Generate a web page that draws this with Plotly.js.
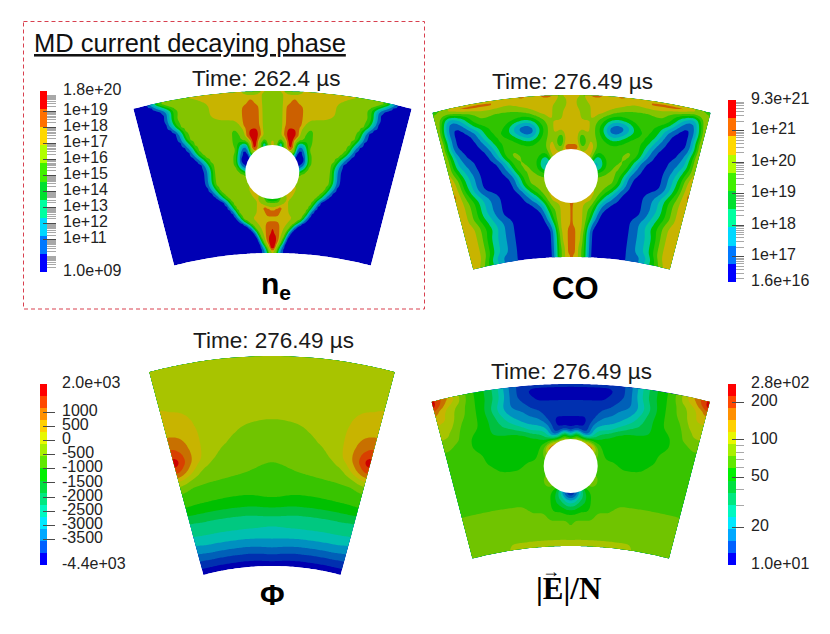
<!DOCTYPE html>
<html><head><meta charset="utf-8">
<script src="https://cdn.plot.ly/plotly-3.0.1.min.js"></script>
<style>html,body{margin:0;padding:0;background:#fff}#c{width:830px;height:634px}</style>
</head><body><div id="c"></div>
<script>
// ---- field data: contour band index (hex digit) per radial row, centre line to side edge ----
const tenFractions=[0,.02,.05,.08,.12,.16,.20,.25,.30,.36,.43,.50,.58,.66,.74,.82,.90,.96,1];
const tenRowDepths=[0,4,10,16,22,28,34,40,46,52,58,64,72,80,88,96,104,110,116,122,128,134,140,146,152,157,162];
const neRows=[
"6677546777777665111","5557777777776664001","5557787777766630000","5557888777766640000",
"5557888777766640000","5557888777666630000","5557888744666500000","5557998446666500000",
"6677998446666300000","7721991446666100000","7633890256665000000","6665550156662000000",
"0000000046640000000","3333333466640000000","6666666666650000000","7777777666630000000",
"3334776666400000000","3335766665000000000","7788766663000000000","8887766650000000000",
"7777777620000000000","8887764000000000000","9887630000000000000","9987400000000000000",
"9985100000000000000","9942100000000000000","6532110000000000000"];
const coRows=[
"7776788778777777653","7766777777778888776","7766677777666654167","7776677765555652057",
"7776676544555540047","7777765421255410047","7777765300245400057","7774765422455200047",
"7773675544554100157","8885685555563000257","7777774555662001257","7777771455640001357",
"1111111356620002477","6666666666300002477","6666666666300002578","7777777653000124677",
"8877776421000124677","8777665210000124677","8777654100000134677","8777653000001235777",
"8777641000001245777","8877620000001235777","8877520000001235777","8877520000001235777",
"8876520000001235777","8876520000001124777","8776520000001134677"];
const efFractions=[0,.04,.08,.12,.16,.2,.25,.3,.36,.43,.5,.58,.66,.74,.82,.9,.96,1];
const efRowDepths=[0,6,12,20,28,36,44,50,56,64,72,80,88,96,104,110,116,124,132,140,150,162];
const efRows=[
"11111111124678acde","00000000124678abde","000000011246789abc","111111112235789abb",
"111111223346788aaa","0000123334567889aa","000134445666778999","194035667777778899",
"aaa976777777778888","eeeeea777777788888","999999877777788888","888888888777888888",
"888888888888888888","aaaaaa888888888888","013788888888888888","014678888888888888",
"345678888888888888","667778888999999999","888888999999999999","899999999999999999",
"999999999999999999","aaaaaaaaaaaa999999"];
// potential field, volts
const phiFractions=[0,.1,.2,.3,.4,.5,.6,.7,.75,.8,.85,.9,.95,1];
const phiRowDepths=[0,44,63,74,84,90,95,100,107,114,123,141,150,158,169,173,182,190,197,204,210];
const phiRows=[
[50,50,50,50,50,50,50,50,50,60,70,80,90,100],
[20,20,20,20,20,20,40,130,200,250,270,280,290,300],
[-133,-120,-100,-80,-20,20,60,280,380,430,480,520,550,570],
[-300,-280,-220,-170,-90,-30,60,320,430,560,690,800,850,880],
[-400,-380,-330,-260,-170,-110,60,320,470,650,850,1080,1250,1300],
[-450,-430,-370,-300,-230,-170,-60,310,490,680,930,1200,1500,1620],
[-480,-460,-400,-340,-270,-210,-110,270,430,650,950,1300,1700,1950],
[-520,-500,-440,-380,-310,-250,-220,60,330,560,830,1150,1450,1570],
[-570,-550,-500,-440,-380,-320,-270,-200,-150,180,480,760,1000,1150],
[-640,-620,-580,-530,-480,-430,-380,-320,-270,-210,-120,50,200,293],
[-560,-600,-640,-650,-650,-640,-620,-600,-590,-580,-570,-550,-500,-480],
[-987,-1010,-1050,-1060,-1060,-1050,-1040,-1030,-1030,-1030,-1030,-1030,-1030,-1030],
[-1335,-1350,-1400,-1413,-1413,-1413,-1413,-1413,-1413,-1413,-1413,-1420,-1430,-1450],
[-1698,-1720,-1820,-1840,-1840,-1840,-1840,-1840,-1840,-1840,-1840,-1850,-1870,-1890],
[-2267,-2240,-2160,-2153,-2153,-2153,-2153,-2153,-2153,-2153,-2153,-2160,-2180,-2200],
[-2381,-2350,-2280,-2267,-2267,-2267,-2267,-2267,-2267,-2267,-2267,-2290,-2320,-2340],
[-2636,-2650,-2680,-2693,-2693,-2693,-2693,-2693,-2693,-2693,-2693,-2730,-2770,-2800],
[-3014,-3050,-3100,-3120,-3120,-3120,-3120,-3120,-3120,-3120,-3120,-3140,-3160,-3180],
[-3440,-3480,-3530,-3547,-3547,-3547,-3547,-3547,-3547,-3547,-3547,-3560,-3580,-3590],
[-3912,-3950,-3980,-4000,-4000,-4000,-4000,-4000,-4000,-4000,-4000,-4000,-4000,-4000],
[-4250,-4280,-4300,-4300,-4300,-4300,-4300,-4300,-4300,-4300,-4300,-4300,-4300,-4300]];

// ---- colour bar data ----
const neTickVals=[9,11,12,13,14,15,16,17,18,19,20.255];
const neTickText=["1.0e+09","1e+11","1e+12","1e+13","1e+14","1e+15","1e+16","1e+17","1e+18","1e+19","1.8e+20"];
const coTickVals=[16.204,17,18,19,20,21,21.968];
const coTickText=["1.6e+16","1e+17","1e+18","1e+19","1e+20","1e+21","9.3e+21"];
const phiTickVals=[-4400,-3500,-3000,-2500,-2000,-1500,-1000,-500,0,500,1000,2000];
const phiTickText=["-4.4e+03","-3500","-3000","-2500","-2000","-1500","-1000","-500","0","500","1000","2.0e+03"];
const efTickScale=[10,20,50,100,200,280];
const efTickText=["1.0e+01","20","50","100","200","2.8e+02"];
const efMinorScale=[30,40,60,70,80,90];

// ---- palettes (shaded surface / bright bar) ----
const surface10=["#0000b4","#0062bc","#00a8c0","#00c8a0","#00c000","#30c400","#84c400","#c8b400","#cc6000","#cc0000"];
const bar10=["#0000ff","#0078ff","#00d8ff","#00ffa0","#00e030","#40f000","#b0ff00","#ffd800","#ff7000","#ff0000"];
const surface15=["#0000b0","#0030b0","#0060b8","#0090c0","#00c0b0","#00c880","#00c040","#00c000","#38c400","#70c400","#a8c400","#c8b400","#c87000","#d84000","#cc0000"];
const bar15=["#0000ff","#0060ff","#00a8ff","#00e8ff","#00f8c0","#00e880","#00e040","#00f000","#60e800","#a8f000","#e8f800","#ffd000","#ff9000","#ff4800","#ff0000"];

// ---- page geometry ----
const W=830,H=634,FONT="Liberation Sans",REFINE=3;
const panels={
 ne:{cx:272.5,cy:643,rOut:552,half:14.6,hole:{x:272.3,y:172,r:27}},
 co:{cx:571.5,cy:647,rOut:552,half:14.6,hole:{x:571,y:176,r:27}},
 phi:{cx:272,cy:832,rOut:476,half:14.95},
 ef:{cx:570.7,cy:936,rOut:552,half:14.6,hole:{x:570.7,y:466,r:27}}
};
const bars={
 ne:{x0:40,x1:47,tick:56,y0:91,y1:272},
 co:{x0:728,x1:736,tick:744,y0:100,y1:282},
 phi:{x0:40,x1:47,tick:55,y0:384,y1:565},
 ef:{x0:728,x1:736,tick:744,y0:384,y1:565}
};

function mirrorCols(h){return h.slice(1).reverse().concat(h);}
function mirrorFrac(f){return f.slice(1).reverse().map(v=>-v).concat(f);}
function digits(s){return s.split('').map(c=>parseInt(c,16));}
// display refinement of the grid so contour edges render as curves
function fineAxis(a){const o=[];for(let i=0;i<a.length-1;i++)for(let k=0;k<REFINE;k++)o.push(a[i]+(a[i+1]-a[i])*k/REFINE);o.push(a[a.length-1]);return o;}
function blur(g,passes){
  const R=g.length,C=g[0].length;
  for(let pass=0;pass<passes;pass++){
    g=g.map(row=>row.map((v,c)=>(row[Math.max(c-1,0)]+2*v+row[Math.min(c+1,C-1)])/4));
    g=g.map((row,r)=>row.map((v,c)=>(g[Math.max(r-1,0)][c]+2*v+g[Math.min(r+1,R-1)][c])/4));
  }
  return g;
}
function fineGrid(z,hot){
  const rows=z.length,cols=z[0].length,R=(rows-1)*REFINE+1,C=(cols-1)*REFINE+1;
  const g=[];
  for(let r=0;r<R;r++){const r0=Math.min(Math.floor(r/REFINE),rows-2),tr=r/REFINE-r0,row=[];
    for(let c=0;c<C;c++){const c0=Math.min(Math.floor(c/REFINE),cols-2),tc=c/REFINE-c0;
      row.push((1-tr)*((1-tc)*z[r0][c0]+tc*z[r0][c0+1])+tr*((1-tc)*z[r0+1][c0]+tc*z[r0+1][c0+1]));}
    g.push(row);}
  const soft=blur(g,5);
  if(hot===undefined) return soft;
  const crisp=blur(g,2);      // narrow hot cores keep their width
  return soft.map((row,r)=>row.map((v,c)=>crisp[r][c]>=hot?Math.max(v,crisp[r][c]):v));
}
// the electron density front is much steeper than the grid spacing
function steepFront(v){
  if(v<1.5) return v/3;
  if(v<4.5) return 0.5+(v-1.5)*5/3;
  if(v<6) return 5.5+(v-4.5)/3;
  return v;
}

function sector(id,p,fractions,depths,table,levels,colors,hot,remap){
  const fr=fineAxis(mirrorFrac(fractions));
  const dp=fineAxis(depths);
  let z=fineGrid(table.map(mirrorCols),hot);
  if(remap) z=z.map(r=>r.map(remap));
  const th=p.half*Math.PI/180;
  const X=dp.map(v=>fr.map(f=>p.cx+(p.rOut-v)*Math.sin(f*th)));
  const Y=dp.map(v=>fr.map(f=>p.cy-(p.rOut-v)*Math.cos(f*th)));
  const a=fr.map((_,i)=>i),b=dp.map((_,i)=>i);
  const hid={showgrid:false,showline:false,startline:false,endline:false,showticklabels:'none',
             minorgridcount:0,smoothing:0,tickmode:'array',tickvals:[],title:{text:''}};
  const n=colors.length;
  return [
   {type:'carpet',carpet:id,a:a,b:b,x:X,y:Y,xaxis:'x',yaxis:'y',aaxis:hid,baxis:hid,hoverinfo:'skip'},
   {type:'contourcarpet',carpet:id,a:a,b:b,z:z,xaxis:'x',yaxis:'y',autocontour:false,
    contours:{start:levels.start,end:levels.end,size:levels.size,coloring:'fill',showlines:false},
    colorscale:colors.map((c,i)=>[i/(n-1),c]),showscale:false,line:{width:0,smoothing:0.9},hoverinfo:'skip'}
  ];
}

function colorBar(k,b,ticks,text,minors,colors){
  const n=colors.length,lo=ticks[0],hi=ticks[ticks.length-1];
  const edges=colors.map((_,i)=>lo+(hi-lo)*i/n).concat([hi]);
  const scale=[];colors.forEach((c,i)=>{scale.push([i/n,c]);scale.push([(i+1)/n,c]);});
  const tr={type:'heatmap',x:[0,b.x1-b.x0],y:edges,z:colors.map((_,i)=>[i]),zmin:-0.5,zmax:n-0.5,
    colorscale:scale,showscale:false,xaxis:'x'+k,yaxis:'y'+k,hoverinfo:'skip',zsmooth:false};
  const xa={domain:[b.x0/W,b.tick/W],range:[0,b.tick-b.x0],visible:false,anchor:'y'+k,fixedrange:true};
  const ya={domain:[1-b.y1/H,1-b.y0/H],range:[lo,hi],anchor:'x'+k,side:'right',tickmode:'array',tickvals:ticks,ticktext:text,
    ticks:'inside',ticklen:b.tick-b.x1+4,tickcolor:'#4a4a4a',tickwidth:1,showgrid:false,zeroline:false,showline:false,
    tickfont:{family:FONT,size:16,color:'#222'},ticklabelstandoff:6,ticklabelshift:-2,
    minor:{ticks:'inside',ticklen:b.tick-b.x1,tickcolor:'#a8a8a8',tickwidth:1,tickmode:'array',tickvals:minors,showgrid:false}};
  return {tr,xa,ya};
}
function logMinors(lo,hi){const m=[];for(let d=Math.floor(lo);d<hi;d++)for(let q=2;q<10;q++){const v=d+Math.log10(q);if(v>lo&&v<hi)m.push(v);}return m;}

const traces=[
 ...sector('ne',panels.ne,tenFractions,tenRowDepths,neRows.map(digits),{start:.5,end:8.5,size:1},surface10,7.4,steepFront),
 ...sector('co',panels.co,tenFractions,tenRowDepths,coRows.map(digits),{start:.5,end:8.5,size:1},surface10,7.4),
 ...sector('ef',panels.ef,efFractions,efRowDepths,efRows.map(digits),{start:.5,end:13.5,size:1},surface15,9.4),
 ...sector('phi',panels.phi,phiFractions,phiRowDepths,phiRows,{start:-3973.33,end:1573.4,size:426.667},surface15)
];
const layout={width:W,height:H,margin:{l:0,r:0,t:0,b:0},paper_bgcolor:'#fff',plot_bgcolor:'#fff',showlegend:false,
 xaxis:{domain:[0,1],range:[0,W],visible:false,fixedrange:true},
 yaxis:{domain:[0,1],range:[H,0],visible:false,fixedrange:true},
 shapes:[],annotations:[]};
const barSpecs=[
 colorBar(2,bars.ne,neTickVals,neTickText,logMinors(9,20.255),bar10),
 colorBar(3,bars.co,coTickVals,coTickText,logMinors(16.204,21.968),bar10),
 colorBar(4,bars.phi,phiTickVals,phiTickText,[],bar15),
 colorBar(5,bars.ef,efTickScale.map(Math.log10),efTickText,efMinorScale.map(Math.log10),bar15)
];
barSpecs.forEach((s,i)=>{traces.push(s.tr);layout['xaxis'+(i+2)]=s.xa;layout['yaxis'+(i+2)]=s.ya;});

[panels.ne,panels.co,panels.ef].forEach(p=>{const h=p.hole;
 layout.shapes.push({type:'circle',xref:'x',yref:'y',x0:h.x-h.r,x1:h.x+h.r,y0:h.y-h.r,y1:h.y+h.r,fillcolor:'#fff',line:{width:0},layer:'above'});});
layout.shapes.push({type:'rect',xref:'x',yref:'y',x0:23.5,x1:424.5,y0:21.5,y1:309,line:{color:'#d8404f',width:1,dash:'4px,3px'},layer:'above'});

function note(text,x,y,size,opt){layout.annotations.push(Object.assign({text,x,y,xref:'x',yref:'y',showarrow:false,xanchor:'center',yanchor:'middle',
  font:Object.assign({family:FONT,size,color:'#1a1a1a'},(opt&&opt.font)||{})},opt&&opt.extra||{}));}
note("MD current decaying phase",190,43,25.5,{font:{lineposition:'under',color:'#111'}});
note("Time: 262.4 µs",266,78,22.5);
note("Time: 276.49 µs",572,81,22.5);
note("Time: 276.49 µs",273,340,22.5);
note("Time: 276.49 µs",571,371,22.5);
note("<b>n<sub>e</sub></b>",276,285,30,{font:{color:'#000'}});
note("<b>CO</b>",575,288,31,{font:{color:'#000'}});
note("<b>Φ</b>",272,594,30,{font:{color:'#000'}});
note("<b>|E|/N</b>",568,588,31,{font:{color:'#000',family:'Liberation Serif'}});
note("<b>→</b>",551,571,18,{font:{color:'#000',family:'Liberation Serif'}});

Plotly.newPlot('c',traces,layout,{staticPlot:true,displayModeBar:false});
</script></body></html>
